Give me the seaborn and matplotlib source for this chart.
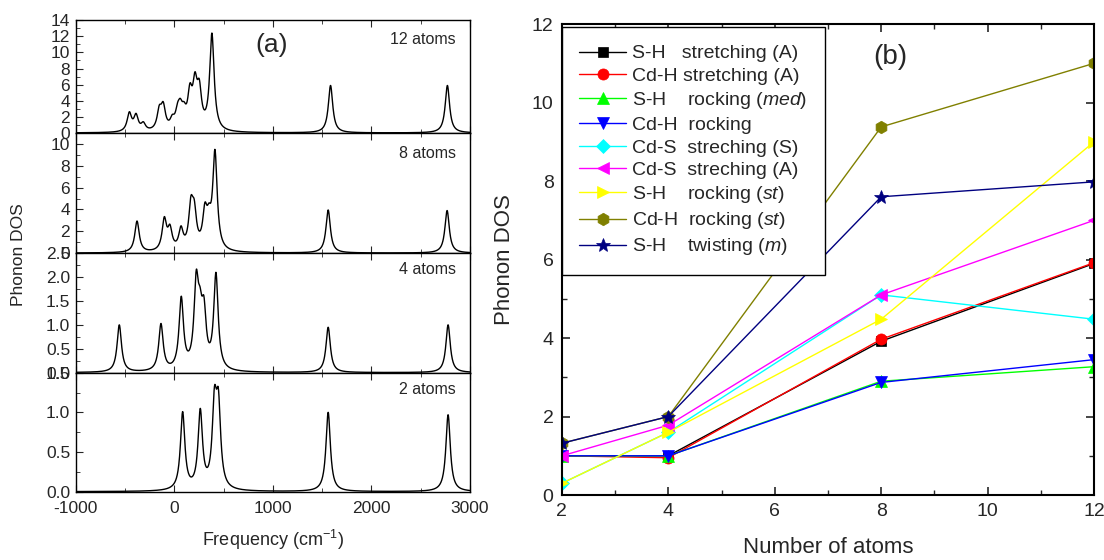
import numpy as np
import pandas as pd
import matplotlib
matplotlib.use("Agg")
import matplotlib.pyplot as plt
import seaborn as sns
from matplotlib.ticker import MultipleLocator

# ---- (a) phonon DOS: peak positions (cm-1) and peak heights
freq_min, freq_max = -1000, 3000
hwhm = 27  # broadening of each line

peaks_12 = [-456, -388, -314, -152, -112, -20, 34, 61, 98, 159, 210, 254, 382, 1586, 2772]
heights_12 = [2.64, 2.44, 1.4, 3.47, 3.88, 2.3, 3.8, 4.3, 3.9, 6.2, 7.6, 6.7, 12.4, 5.9, 5.9]

peaks_8 = [-378, -101, -44, 68, 169, 203, 311, 352, 413, 1562, 2769]
heights_8 = [2.94, 3.34, 2.64, 2.5, 5.25, 4.9, 4.65, 4.6, 9.5, 3.95, 3.9]

peaks_4 = [-558, -135, 71, 223, 261, 301, 423, 1562, 2779]
heights_4 = [1.0, 1.03, 1.6, 2.15, 1.8, 1.6, 2.1, 0.95, 1.0]

peaks_2 = [85, 264, 408, 448, 1562, 2779]
heights_2 = [1.01, 1.05, 1.33, 1.30, 1.0, 0.97]

panel_labels = ["12 atoms", "8 atoms", "4 atoms", "2 atoms"]
panel_ylims = [14, 11, 2.5, 1.5]
panel_major = [2, 2, 0.5, 0.5]

# ---- (b) phonon DOS vs number of atoms
n_atoms = [2, 4, 8, 12]
sh_stretch_A = [1.0, 1.0, 3.92, 5.9]
cdh_stretch_A = [1.0, 0.95, 3.97, 5.92]
sh_rock_med = [1.0, 1.0, 2.9, 3.27]
cdh_rock = [1.0, 1.0, 2.87, 3.45]
cds_stretch_S = [0.3, 1.6, 5.1, 4.48]
cds_stretch_A = [1.0, 1.78, 5.1, 7.0]
sh_rock_st = [0.3, 1.6, 4.48, 9.0]
cdh_rock_st = [1.32, 2.0, 9.38, 11.0]
sh_twist_m = [1.32, 2.0, 7.6, 7.98]

series_b = [sh_stretch_A, cdh_stretch_A, sh_rock_med, cdh_rock, cds_stretch_S,
            cds_stretch_A, sh_rock_st, cdh_rock_st, sh_twist_m]
labels_b = ["S-H   stretching (A)", "Cd-H stretching (A)", "S-H    rocking ($\\mathit{med}$)",
            "Cd-H  rocking", "Cd-S  streching (S)", "Cd-S  streching (A)",
            "S-H    rocking ($\\mathit{st}$)", "Cd-H  rocking ($\\mathit{st}$)",
            "S-H    twisting ($\\mathit{m}$)"]
colors_b = ["#000000", "#ff0000", "#00ff00", "#0000ff", "#00ffff", "#ff00ff",
            "#ffff00", "#808000", "#000080"]
markers_b = ["s", "o", "^", "v", "D", "<", ">", "h", "*"]
msizes_b = [7, 8, 8, 8, 7, 8, 8, 9, 10]

sns.set_style("ticks")
plt.rcParams["font.family"] = ["Liberation Sans", "DejaVu Sans"]
plt.rcParams["mathtext.fontset"] = "custom"
plt.rcParams["mathtext.rm"] = "Liberation Sans"
plt.rcParams["mathtext.it"] = "Liberation Sans:italic"
plt.rcParams["axes.unicode_minus"] = False
plt.rcParams["xtick.direction"] = "in"
plt.rcParams["ytick.direction"] = "in"


def lorentz(x, c):
    return hwhm**2 / ((x - c)**2 + hwhm**2)


def dos_curve(freq, centers, heights):
    centers = np.array(centers, float)
    heights = np.array(heights, float)
    # pick line strengths so the summed curve reaches the read heights
    amp = heights.copy()
    for _ in range(200):
        at_peaks = np.array([np.sum(amp * lorentz(c, centers)) for c in centers])
        amp = np.clip(amp + 0.5 * (heights - at_peaks), 0.02, None)
    return np.sum(amp[:, None] * lorentz(freq[None, :], centers[:, None]), axis=0)


freq = np.arange(freq_min, freq_max + 1, 2.0)
spectra = [(peaks_12, heights_12), (peaks_8, heights_8), (peaks_4, heights_4), (peaks_2, heights_2)]

fig = plt.figure(figsize=(11.04, 5.6), dpi=100)

# left stack: panel edges in figure fraction
edges = [0.964, 0.7625, 0.548, 0.3345, 0.122]
axes_a = []
for i, (pk, ht) in enumerate(spectra):
    ax = fig.add_axes([0.0686, edges[i + 1], 0.357, edges[i] - edges[i + 1]])
    df = pd.DataFrame({"freq": freq, "dos": dos_curve(freq, pk, ht)})
    sns.lineplot(data=df, x="freq", y="dos", ax=ax, color="k", lw=1.0, estimator=None)
    ax.set_xlim(freq_min, freq_max)
    ax.set_ylim(0, panel_ylims[i])
    ax.xaxis.set_major_locator(MultipleLocator(1000))
    ax.xaxis.set_minor_locator(MultipleLocator(500))
    ax.yaxis.set_major_locator(MultipleLocator(panel_major[i]))
    ax.yaxis.set_minor_locator(MultipleLocator(panel_major[i] / 2))
    ax.tick_params(which="both", top=True, right=False, labelsize=12.5, pad=4)
    ax.tick_params(axis="x", pad=7)
    ax.tick_params(which="major", length=5)
    ax.tick_params(which="minor", length=3)
    for s in ax.spines.values():
        s.set_color("k")
        s.set_linewidth(1.0)
    ax.set_ylabel("")
    ax.set_xlabel("")
    if i < 3:
        ax.tick_params(labelbottom=False)
    ax.text(0.965, 0.83 if i < 2 else 0.86, panel_labels[i], transform=ax.transAxes,
            ha="right", va="center", fontsize=11.5)
    axes_a.append(ax)

axes_a[0].text(0.498, 0.78, "(a)", transform=axes_a[0].transAxes, ha="center", va="center", fontsize=19)
axes_a[-1].set_xlabel("Frequency (cm$^{-1}$)", fontsize=13, labelpad=8)
fig.text(0.0165, 0.545, "Phonon DOS", rotation=90, ha="center", va="center", fontsize=12.5)

# right panel
axb = fig.add_axes([0.509, 0.116, 0.482, 0.841])
for vals, lab, c, m, ms in zip(series_b, labels_b, colors_b, markers_b, msizes_b):
    sns.lineplot(x=n_atoms, y=vals, ax=axb, color=c, lw=1.0, marker=m, markersize=ms,
                 markeredgecolor=c, markeredgewidth=0.5, label=lab, estimator=None)
axb.set_xlim(2, 12)
axb.set_ylim(0, 12)
axb.xaxis.set_major_locator(MultipleLocator(2))
axb.xaxis.set_minor_locator(MultipleLocator(1))
axb.yaxis.set_major_locator(MultipleLocator(2))
axb.yaxis.set_minor_locator(MultipleLocator(1))
axb.tick_params(which="both", top=True, right=True, labelsize=14, pad=6)
axb.tick_params(which="major", length=6, width=1.2)
axb.tick_params(which="minor", length=3.5, width=1.0)
for s in axb.spines.values():
    s.set_color("k")
    s.set_linewidth(1.5)
axb.set_xlabel("Number of atoms", fontsize=16, labelpad=12)
axb.set_ylabel("Phonon DOS", fontsize=16, labelpad=12)
axb.text(0.617, 0.93, "(b)", transform=axb.transAxes, ha="center", va="center", fontsize=20)

leg = axb.legend(loc="upper left", bbox_to_anchor=(0.0, 0.993), borderaxespad=0,
                 fontsize=14, labelspacing=0.26, handlelength=2.4, handletextpad=0.3,
                 borderpad=0.9, frameon=True, fancybox=False, framealpha=1)
leg.get_frame().set_edgecolor("k")
leg.get_frame().set_linewidth(1.0)

fig.savefig("out.png", dpi=100)
